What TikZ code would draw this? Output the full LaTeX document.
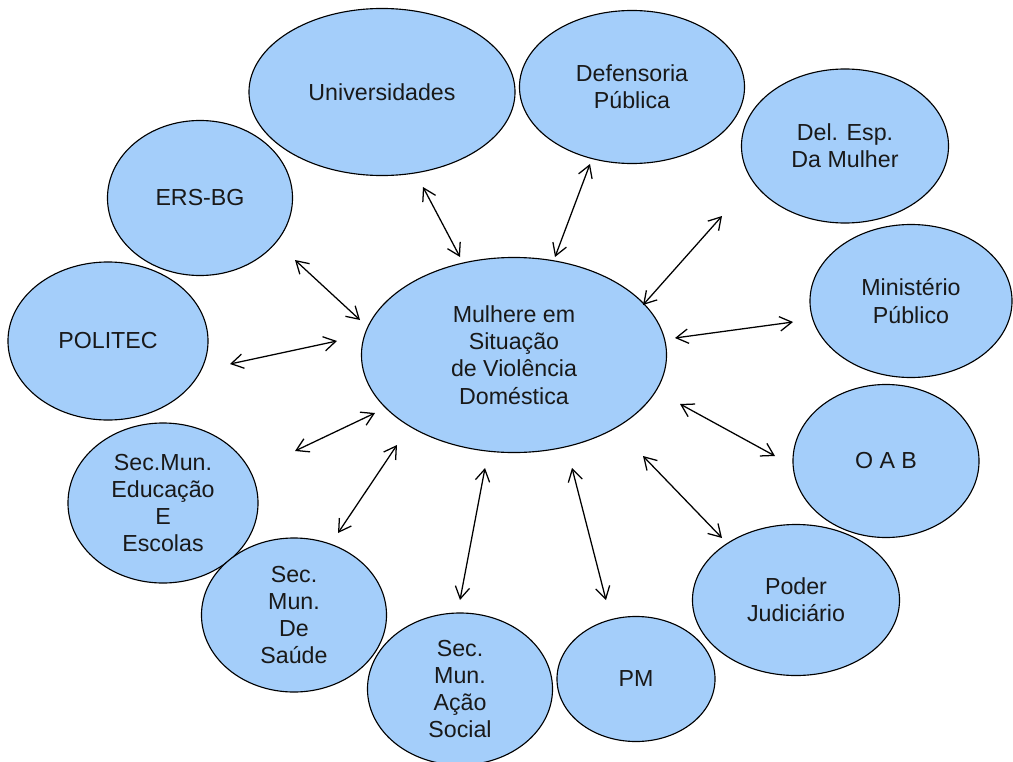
\documentclass[tikz,border=0pt]{standalone}
\usepackage{fontspec}
\setmainfont{Liberation Sans}
\usetikzlibrary{shapes.geometric,arrows.meta}
\definecolor{azulbolha}{RGB}{164,206,250}
\tikzset{
  bolha/.style={ellipse, draw=black, line width=0.8pt, fill=azulbolha, inner sep=0pt,
    align=center, text=black!90, font=\fontsize{16.5}{19.4}\selectfont},
  liga/.style={{Straight Barb[length=3mm,width=3.6mm]}-{Straight Barb[length=3mm,width=3.6mm]},
    line width=0.9pt}
}
\begin{document}
\begin{tikzpicture}[x=0.025cm, y=-0.025cm]
    \useasboundingbox (0,0) rectangle (1013,762);

    % central node
        \node[bolha, minimum width=7.625cm, minimum height=4.875cm] (mulher) at (514,355)
            {Mulhere em\\Situação\\de Violência\\Doméstica};

    % outer nodes, clockwise from the top
        \node[bolha, minimum width=6.65cm, minimum height=4.175cm] (univ) at (382,92) {Universidades};
        \node[bolha, minimum width=5.625cm, minimum height=3.825cm] (defens) at (632,87) {Defensoria\\Pública};
        \node[bolha, minimum width=5.175cm, minimum height=3.85cm] (delegacia) at (845,146) {Del. Esp.\\Da Mulher};
        \node[bolha, minimum width=5.05cm, minimum height=3.825cm] (minist) at (911,301) {Ministério\\Público};
        \node[bolha, minimum width=4.65cm, minimum height=3.825cm] (oab) at (886,461) {O A B};
        \node[bolha, minimum width=5.175cm, minimum height=3.775cm] (poder) at (796,600) {Poder\\Judiciário};
        \node[bolha, minimum width=3.95cm, minimum height=3.125cm] (pm) at (636,679) {PM};
        \node[bolha, minimum width=4.625cm, minimum height=3.8cm] (acao) at (460,689) {Sec.\\Mun.\\Ação\\Social};
        \node[bolha, minimum width=4.75cm, minimum height=4.0cm] (educ) at (163,503) {Sec.Mun.\\Educação\\E\\Escolas};
        \node[bolha, minimum width=4.625cm, minimum height=3.85cm] (saude) at (294,615) {Sec.\\Mun.\\De\\Saúde};
        \node[bolha, minimum width=5.0cm, minimum height=3.95cm] (politec) at (108,341) {POLITEC};
        \node[bolha, minimum width=4.625cm, minimum height=3.875cm] (ers) at (200,198) {ERS-BG};

    % arrow ends
        \coordinate (univA) at (423,187);    \coordinate (univB) at (460,257);
        \coordinate (defA) at (590,164);     \coordinate (defB) at (555,257);
        \coordinate (delA) at (722,216);     \coordinate (delB) at (643,305);
        \coordinate (minA) at (793,322);     \coordinate (minB) at (675,338);
        \coordinate (oabA) at (775,456);     \coordinate (oabB) at (680,404);
        \coordinate (podA) at (722,538);     \coordinate (podB) at (643,456);
        \coordinate (pmA) at (606,600);      \coordinate (pmB) at (572,468);
        \coordinate (acaoA) at (460,600);    \coordinate (acaoB) at (485,468);
        \coordinate (saudeA) at (338,533);   \coordinate (saudeB) at (397,445);
        \coordinate (educA) at (295,451);    \coordinate (educB) at (375,413);
        \coordinate (polA) at (230,364);     \coordinate (polB) at (337,341);
        \coordinate (ersA) at (295,260);     \coordinate (ersB) at (360,320);

    % double arrows
        \draw[liga] (univA) -- (univB);
        \draw[liga] (defA) -- (defB);
        \draw[liga] (delA) -- (delB);
        \draw[liga] (minA) -- (minB);
        \draw[liga] (oabA) -- (oabB);
        \draw[liga] (podA) -- (podB);
        \draw[liga] (pmA) -- (pmB);
        \draw[liga] (acaoA) -- (acaoB);
        \draw[liga] (saudeA) -- (saudeB);
        \draw[liga] (educA) -- (educB);
        \draw[liga] (polA) -- (polB);
        \draw[liga] (ersA) -- (ersB);

\end{tikzpicture}
\end{document}
